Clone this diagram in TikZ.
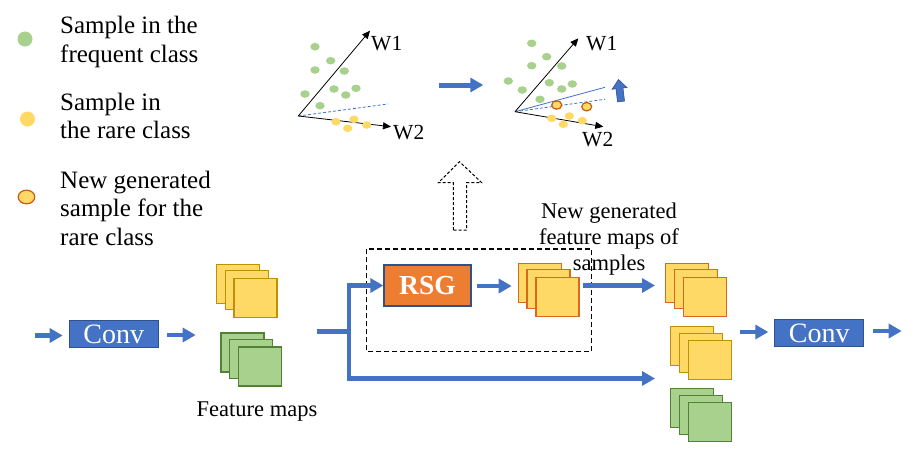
\documentclass[tikz,border=0pt]{standalone}
\usepackage{fontspec}
\setmainfont{Liberation Serif}
\usetikzlibrary{arrows.meta}
\definecolor{cblue}{HTML}{4472C4}
\definecolor{cbluedark}{HTML}{2F528F}
\definecolor{corange}{HTML}{ED7D31}
\definecolor{corborder}{HTML}{D8691F}
\definecolor{cbrown}{HTML}{C55A11}
\definecolor{cyellow}{HTML}{FFD966}
\definecolor{cgold}{HTML}{BF9000}
\definecolor{cgreen}{HTML}{A9D18E}
\definecolor{cgreendark}{HTML}{548235}
\tikzset{
  barrow/.style={draw=cblue, line width=4.5pt, -{Triangle[length=13pt,width=14pt]}},
  axarrow/.style={draw=black, line width=0.8pt, -{Triangle[length=8pt,width=7pt]}},
  sepdash/.style={draw=cblue, line width=0.8pt, dash pattern=on 3pt off 2pt},
  convbox/.style={draw=cbluedark, fill=cblue, line width=1pt, minimum width=89pt, minimum height=27pt, inner sep=0pt, text=white, font=\fontsize{28}{30}\selectfont},
  rsgbox/.style={draw=cbluedark, fill=corange, line width=1.3pt, minimum width=87pt, minimum height=41pt, inner sep=0pt, text=white, font=\bfseries\fontsize{27.5}{30}\selectfont},
  legtext/.style={anchor=base west, align=left, inner sep=0pt, font=\fontsize{25}{28.5}\selectfont},
  lbltext/.style={inner sep=0pt, font=\fontsize{22.5}{26}\selectfont},
  wlabel/.style={anchor=base west, inner sep=0pt, font=\fontsize{21.5}{22}\selectfont},
  pics/fmstack/.style n args={2}{code={
    \foreach \dx/\dy in {0/0, 8.8/6.5, 17.6/14}{
      \filldraw[fill=#1, draw=#2, line width=1.3pt] (\dx,\dy) rectangle ++(43,39);}
  }},
  gdot/.style={fill=cgreen},
  ydot/.style={fill=cyellow},
  ndot/.style={fill=cyellow, draw=cbrown, line width=1.2pt},
}
\begin{document}
\begin{tikzpicture}[x=1pt,y=-1pt]
\fill[white] (0,0) rectangle (917,458);
\useasboundingbox (0,0) rectangle (917,458);

% ---------- legend ----------
\fill[gdot] (25,39) circle [radius=7.5pt];
\fill[ydot] (27.5,119) circle [radius=7.5pt];
\filldraw[ndot] (26.5,197) ellipse [x radius=8.3pt, y radius=6.8pt];
\node[legtext] (leg1) at (60,62) {Sample in the\\frequent class};
\node[legtext] (leg2) at (60,138.5) {Sample in\\the rare class};
\node[legtext] (leg3) at (60,245) {New generated\\sample for the\\rare class};

% ---------- scatter plot 1 ----------
\coordinate (o1) at (298.3,116);
\coordinate (w1a) at (370,30.7);
\coordinate (w2a) at (391,126.7);
\coordinate (d1) at (388,104);
\draw[sepdash] (o1) -- (d1);
\draw[axarrow] (o1) -- (w1a);
\draw[axarrow] (o1) -- (w2a);
\node[wlabel] (lw1a) at (371,50) {W1};
\node[wlabel] (lw2a) at (393,139.5) {W2};
\foreach \x/\y in {315/46.7, 330.7/60.7, 315/70, 344.3/71, 305/94, 334/89, 345.7/95, 356/88.3, 320/105.7}
  \fill[gdot] (\x,\y) ellipse [x radius=4.7pt, y radius=3.8pt];
\foreach \x/\y in {336/121.7, 354/119.3, 347.7/128.3, 366.7/125}
  \fill[ydot] (\x,\y) ellipse [x radius=4.7pt, y radius=3.8pt];

% arrow between plots
\coordinate (pa) at (439.3,85);
\coordinate (pb) at (483.3,85);
\draw[barrow, line width=5pt] (pa) -- (pb);

% ---------- scatter plot 2 ----------
\coordinate (o2) at (515,111.7);
\coordinate (w1b) at (578.3,38.3);
\coordinate (w2b) at (603.3,126.7);
\coordinate (s2) at (605,87.3);
\coordinate (d2) at (605,99.3);
\draw[sepdash] (o2) -- (d2);
\draw[draw=cblue, line width=0.8pt] (o2) -- (s2);
\draw[axarrow] (o2) -- (w1b);
\draw[axarrow] (o2) -- (w2b);
\node[wlabel] (lw1b) at (586,50) {W1};
\node[wlabel] (lw2b) at (582,146.5) {W2};
\foreach \x/\y in {531.7/43.3, 546.7/56.7, 531.7/65.7, 561.7/66, 508.3/81, 522.3/90, 549.3/82.7, 561.7/89, 572.3/84, 540/99.3}
  \fill[gdot] (\x,\y) ellipse [x radius=4.7pt, y radius=3.8pt];
\foreach \x/\y in {551.7/118.3, 569.3/116, 563.3/124.3, 582.3/120.7}
  \fill[ydot] (\x,\y) ellipse [x radius=4.7pt, y radius=3.8pt];
\foreach \x/\y in {556.7/105, 586.7/106.7}
  \filldraw[ndot] (\x,\y) ellipse [x radius=5pt, y radius=4.2pt];
% small blue block arrow
\filldraw[fill=cblue, draw=cbluedark, line width=0.6pt]
  (624.5,101.1) -- (623.0,88.0) -- (626.95,87.55) -- (618.5,79.5) -- (612.05,89.25) -- (616.0,88.8) -- (617.5,101.9) -- cycle;

% ---------- dashed up arrow and dashed frame ----------
\draw[black, line width=1pt, dash pattern=on 3pt off 2pt, fill=white]
  (453.3,230) -- (453.3,182.7) -- (438.3,182.7) -- (459.5,161.7) -- (481.7,182.7) -- (466.7,182.7) -- (466.7,230) -- cycle;
\draw[black, line width=1.2pt, dash pattern=on 5pt off 3pt] (366.7,249) rectangle (591.7,351.7);

% ---------- lower pipeline ----------
\coordinate (in1) at (35,335.5);
\coordinate (in1tip) at (62.7,335.5);
\node[convbox] (conv1) at (113.8,334.2) {Conv};
\coordinate (c1out) at (167.3,335);
\coordinate (c1tip) at (195.7,335);
\draw[barrow] (in1) -- (in1tip);
\draw[barrow] (c1out) -- (c1tip);

\pic at (216.5,264.3) {fmstack={cyellow}{cgold}};
\pic at (221,333) {fmstack={cgreen}{cgreendark}};
\node[lbltext, anchor=base] (fmlabel) at (257,416.7) {Feature maps};

\node[rsgbox] (rsg) at (427.5,285.5) {RSG};
\coordinate (split0) at (316.7,331.7);
\coordinate (split) at (349,331.7);
\coordinate (bypass) at (655,378.5);
\draw[barrow] (split0) -- (split) |- (rsg.west);
\draw[barrow] (split0) -- (split) |- (bypass);

\coordinate (rsgout) at (476.7,286);
\coordinate (rsgtip) at (511.7,286);
\draw[barrow] (rsgout) -- (rsgtip);
\pic at (518.3,263.3) {fmstack={cyellow}{corborder}};
\coordinate (genout) at (583.3,285.5);
\coordinate (gentip) at (655,285.5);
\draw[barrow] (genout) -- (gentip);
\node[lbltext, anchor=base, align=center] (genlabel) at (609,270.5) {New generated\\feature maps of\\samples};

\pic at (665.7,263.3) {fmstack={cyellow}{corborder}};
\pic at (670.7,326.7) {fmstack={cyellow}{cgold}};
\pic at (670.7,388.7) {fmstack={cgreen}{cgreendark}};

\coordinate (c2in) at (740,332);
\coordinate (c2tip) at (768.3,332);
\node[convbox] (conv2) at (819.2,333) {Conv};
\draw[barrow] (c2in) -- (c2tip);
\coordinate (out1) at (872.7,331);
\coordinate (out2) at (901.7,331);
\draw[barrow] (out1) -- (out2);
\end{tikzpicture}
\end{document}
